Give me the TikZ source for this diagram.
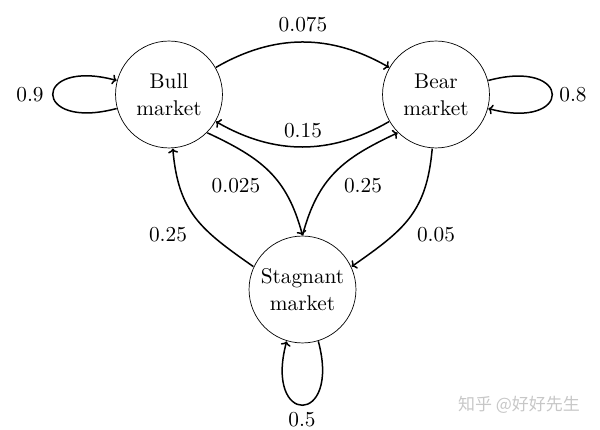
\documentclass[tikz,border=0pt]{standalone}
\usepackage{fontspec}
\usetikzlibrary{arrows.meta}
\newfontfamily\cjk{Noto Sans CJK SC}
\begin{document}
\begin{tikzpicture}[x=1pt,y=1pt,
  state/.style={circle,draw,line width=0.7pt,scale=2.13,transform shape,minimum size=50.2pt,inner sep=0pt,align=center,font=\fontsize{10}{12.7}\selectfont},
  edge/.style={-{To[length=4.5pt,width=10pt]},line width=1.5pt},
  lab/.style={scale=2.13,transform shape,font=\fontsize{10}{12}\selectfont,inner sep=0pt}]
\useasboundingbox (0,0) rectangle (600,430);
\node[state] (bull) at (169,335.5) {Bull\\market};
\node[state] (bear) at (436,335.5) {Bear\\market};
\node[state] (stag) at (302.5,140.5) {Stagnant\\market};

\draw[edge] (bull.30) to[out=30,in=150] (bear.150);
\draw[edge] (bear.-150) to[out=-150,in=-30] (bull.-30);
\draw[edge] (bull.-45) to[out=-25,in=105,looseness=1.1] (stag.90);
\draw[edge] (stag.90) to[out=75,in=-155,looseness=1.1] (bear.-135);
\draw[edge] (stag.155) to[out=145,in=-85,looseness=1.15] (bull.-86);
\draw[edge] (bear.-94) to[out=-95,in=35,looseness=1.15] (stag.25);

\draw[edge] (bull.195) .. controls +(195:88) and +(165:88) .. (bull.165);
\draw[edge] (bear.15) .. controls +(15:88) and +(-15:88) .. (bear.-15);
\draw[edge] (stag.-73) .. controls +(-75:88) and +(-105:88) .. (stag.-107);

\node[lab] (l1) at (303,405) {0.075};
\node[lab] (l2) at (303,299) {0.15};
\node[lab] (l3) at (30,335) {0.9};
\node[lab] (l4) at (573,335) {0.8};
\node[lab] (l5) at (236,244) {0.025};
\node[lab] (l6) at (363,244) {0.25};
\node[lab] (l7) at (168,195) {0.25};
\node[lab] (l8) at (436,195) {0.05};
\node[lab] (l9) at (302,10) {0.5};

\node[text=black!22,inner sep=0pt,font=\cjk\fontsize{17}{20}\selectfont] (wm) at (519,25) {知乎 @好好先生};
\end{tikzpicture}
\end{document}
